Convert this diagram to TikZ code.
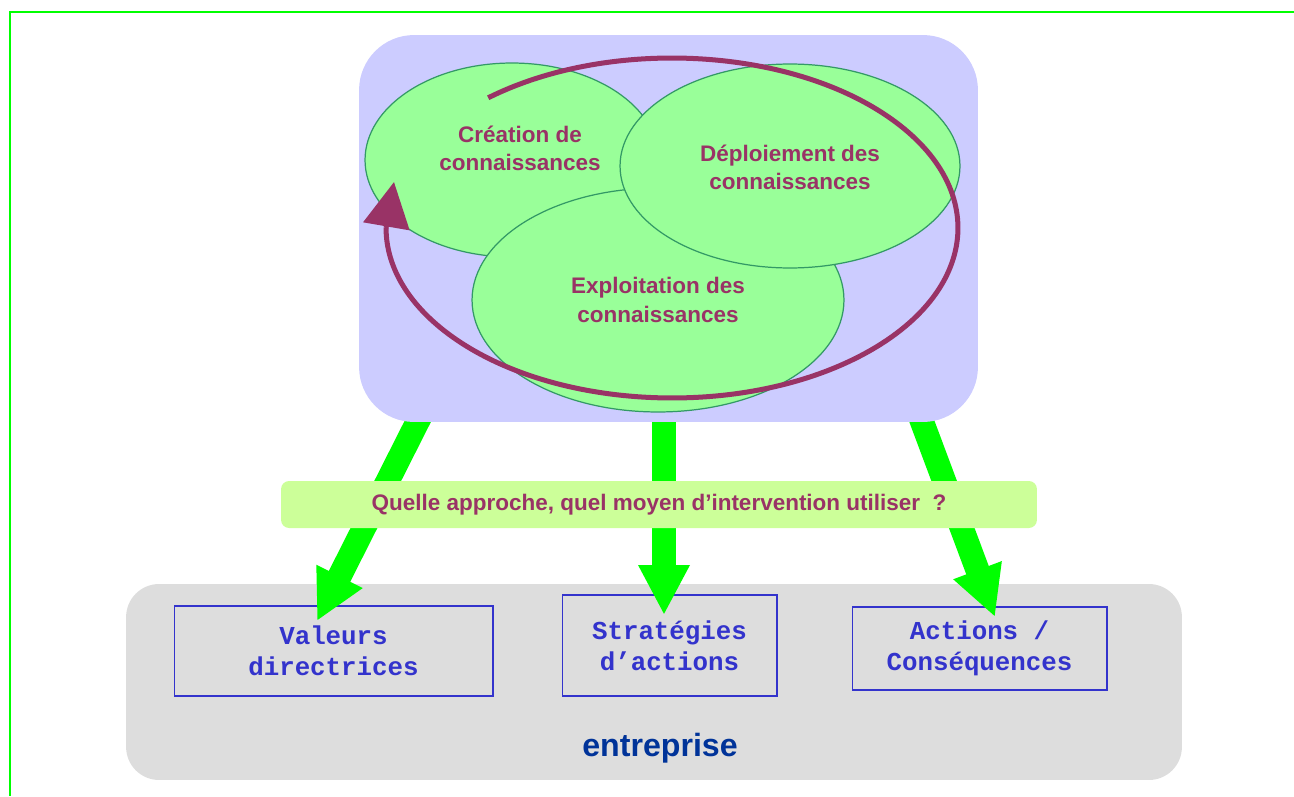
\documentclass[tikz,border=0pt]{standalone}
\usepackage{fontspec}
\setmainfont{Liberation Sans}
\setmonofont{Liberation Mono}
\usetikzlibrary{shapes.geometric,arrows.meta}

\definecolor{lavande}{HTML}{CCCCFF}
\definecolor{vertclair}{HTML}{99FF99}
\definecolor{vertfonce}{HTML}{339966}
\definecolor{vertvif}{HTML}{00FF00}
\definecolor{prune}{HTML}{993366}
\definecolor{pomme}{HTML}{CCFF99}
\definecolor{grisclair}{HTML}{DDDDDD}
\definecolor{bleucadre}{HTML}{3333CC}
\definecolor{marine}{HTML}{003399}

\begin{document}
\begin{tikzpicture}
	  [x=0.02cm,y=0.02cm,
	   bulle/.style={ellipse, draw=vertfonce, fill=vertclair, line width=0.7pt, inner sep=0pt},
	   titre/.style={text=prune, align=center, font=\bfseries\fontsize{12.8}{16}\selectfont},
	   cadre/.style={draw=bleucadre, line width=0.6pt, text=bleucadre, align=center, inner sep=0pt,
	                 font=\ttfamily\bfseries\fontsize{14.7}{17.6}\selectfont},
	   fleche/.style={draw=vertvif, line width=0.48cm, -{Triangle[length=1cm,width=0.96cm]}},
	   boucle/.style={draw=prune, line width=2.85pt}]
	  \useasboundingbox (0,0) rectangle (1294,796);
	  \draw[vertvif, line width=1.1pt] (10,0) -- (10,784) -- (1294,784);

	  % entreprise
	  \node[fill=grisclair, rounded corners=0.66cm, minimum width=21.12cm, minimum height=3.92cm] (entr) at (654,114) {};
	  \node[text=marine, font=\bfseries\fontsize{18.3}{22}\selectfont] (lentr) at (660,48) {entreprise};
	  \node[cadre, minimum width=6.38cm, minimum height=1.8cm] (val) at (333.5,145) {Valeurs\\directrices};
	  \node[cadre, minimum width=4.3cm, minimum height=2.02cm] (strat) at (669.5,150.5) {Stratégies\\d’actions};
	  \node[cadre, minimum width=5.1cm, minimum height=1.66cm] (act) at (979.5,147.5) {Actions /\\Conséquences};

	  \coordinate (d1) at (423,385);
	  \coordinate (d2) at (664,385);
	  \coordinate (d3) at (918,385);
	  \coordinate (a1) at (317,175);
	  \coordinate (a2) at (664,181);
	  \coordinate (a3) at (995,179);
	  \foreach \from/\to in {d1/a1,d2/a2,d3/a3}
	    \draw[fleche] (\from) -- (\to);

	  % connaissances
	  \node[fill=lavande, rounded corners=1.1cm, minimum width=12.38cm, minimum height=7.74cm] (savoir) at (668.5,567.5) {};
	  \node[bulle, minimum width=5.88cm, minimum height=3.88cm] (ec) at (512,636) {};
	  \node[bulle, minimum width=7.44cm, minimum height=4.48cm] (ee) at (658,496) {};
	  \node[bulle, minimum width=6.8cm, minimum height=4.08cm] (ed) at (790,630) {};
	  \node[titre] (tc) at (520,648) {Création de\\connaissances};
	  \node[titre] (td) at (790,629) {Déploiement des\\connaissances};
	  \node[titre] (te) at (658,496) {Exploitation des\\connaissances};

	  \coordinate (centre) at (672,568);
	  \coordinate (pointe) at (394,614);
	  \draw[boucle] (centre) ++(130:5.72cm and 3.4cm)
	    arc[start angle=130, end angle=-180, x radius=5.72cm, y radius=3.4cm] coordinate (base);
	  \draw[boucle, -{Triangle[length=0.9cm,width=0.92cm]}] (base) -- (pointe);

	  \node[fill=pomme, rounded corners=0.16cm, minimum width=15.12cm, minimum height=0.94cm,
	        text=prune, font=\bfseries\fontsize{12.8}{15}\selectfont] (question) at (659,291.5)
	    {Quelle approche, quel moyen d’intervention utiliser\ \ ?};
	\end{tikzpicture}
\end{document}
